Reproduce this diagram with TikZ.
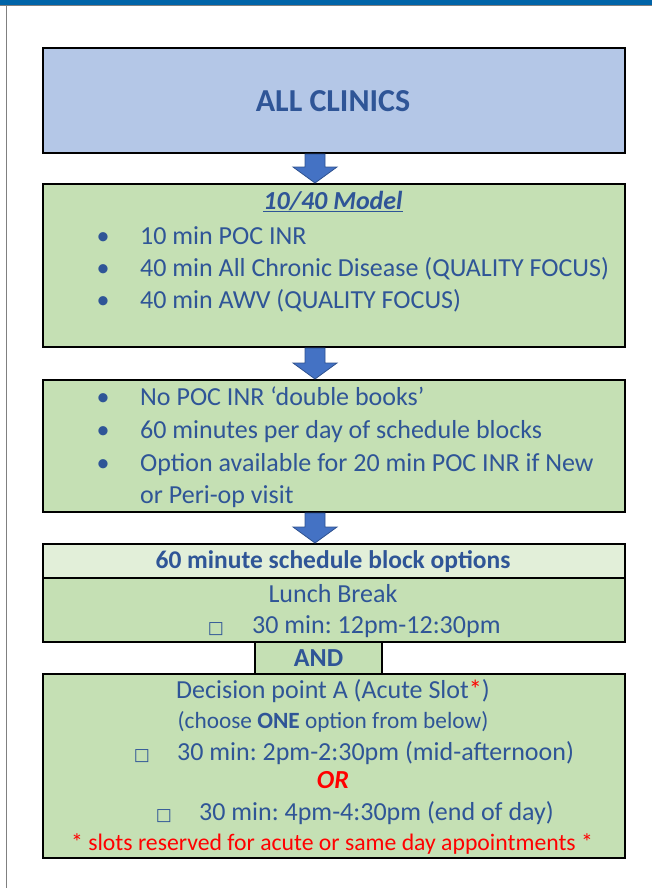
\documentclass[tikz,border=0pt]{standalone}
\usepackage{fontspec}
\setmainfont{Carlito}
\newfontfamily\glyphfont{DejaVu Sans}
\usetikzlibrary{calc}
\frenchspacing

\definecolor{barblue}{HTML}{0064A8}
\definecolor{framegray}{HTML}{808080}
\definecolor{clinicblue}{HTML}{B4C7E7}
\definecolor{stepgreen}{HTML}{C5E0B4}
\definecolor{headgreen}{HTML}{E2EFD9}
\definecolor{inkblue}{HTML}{2F5597}
\definecolor{arrowfill}{HTML}{4472C4}
\definecolor{arrowedge}{HTML}{2F528F}
\definecolor{alertred}{HTML}{FF0000}

\tikzset{
  panel/.style={draw=black, line width=2pt, anchor=north west, inner sep=0pt,
    minimum width=582pt, fill=stepgreen},
  entry/.style={text=inkblue, inner sep=0pt, anchor=base west,
    font=\fontsize{26}{30}\selectfont},
  centred/.style={entry, anchor=base},
  dot/.style={entry, anchor=base},
  tickbox/.style={text=inkblue, inner sep=0pt, anchor=base,
    font=\glyphfont\fontsize{17}{20}\selectfont},
  fatarrow/.style={fill=arrowfill, draw=arrowedge, line width=0.8pt, line join=miter}
}

\newcommand\blockarrow[2]{%
  \filldraw[fatarrow]
    ($(#1.south -| axis)+(-10,0)$) -- ($(#1.south -| axis)+(10,0)$)
    -- ($(#2.north -| axis)+(10,-16)$) -- ($(#2.north -| axis)+(22,-16)$)
    -- (#2.north -| axis)
    -- ($(#2.north -| axis)+(-22,-16)$) -- ($(#2.north -| axis)+(-10,-16)$) -- cycle;}

\begin{document}
\begin{tikzpicture}[x=1pt, y=-1pt]
  \useasboundingbox (0,0) rectangle (652,888);
  \fill[barblue] (0,0) rectangle (652,5);
  \fill[framegray] (0,5) rectangle (652,6.5);
  \fill[framegray] (5.5,5) rectangle (7,888);

  \node[panel, fill=clinicblue, minimum height=105pt] (clinics) at (42,47) {};
  \node[panel, minimum height=163pt] (model) at (42,183) {};
  \node[panel, minimum height=132pt] (rules) at (42,379) {};
  \node[panel, fill=headgreen, minimum height=34pt] (blockhead) at (42,543) {};
  \node[panel, minimum height=64pt] (lunch) at (42,577) {};
  \node[panel, minimum width=127pt, minimum height=32pt] (andbox) at (254,641) {};
  \node[panel, minimum height=184pt] (decision) at (42,673) {};

  \coordinate (axis) at (315,0);
  \blockarrow{clinics}{model}
  \blockarrow{model}{rules}
  \blockarrow{rules}{blockhead}

  \node[centred, font=\fontsize{32}{36}\selectfont\bfseries] (clinicsname) at (333,111) {ALL CLINICS};

  \node[centred, font=\fontsize{26}{30}\selectfont\bfseries\itshape] (modelname) at (333,209) {\underline{10/40 Model}};
  \node[dot] (m1) at (103,244) {•};
  \node[entry] (poc) at (140,244) {10 min POC INR};
  \node[dot] (m2) at (103,276) {•};
  \node[entry] (chronic) at (140,276) {40 min All Chronic Disease (QUALITY FOCUS)};
  \node[dot] (m3) at (103,308) {•};
  \node[entry] (awv) at (140,308) {40 min AWV (QUALITY FOCUS)};

  \node[dot] (r1) at (103,405) {•};
  \node[entry] (nodouble) at (140,405) {No POC INR ‘double books’};
  \node[dot] (r2) at (103,438) {•};
  \node[entry] (perday) at (140,438) {60 minutes per day of schedule blocks};
  \node[dot] (r3) at (103,471) {•};
  \node[entry] (option) at (140,471) {Option available for 20 min POC INR if New};
  \node[entry] (periop) at (140,503) {or Peri-op visit};

  \node[centred, font=\fontsize{25.5}{30}\selectfont\bfseries] (blockname) at (333,568) {60 minute schedule block options};
  \node[centred] (lunchname) at (333,602) {Lunch Break};
  \node[tickbox] (t1) at (216,633) {□};
  \node[entry] (noon) at (252,633) {30 min: 12pm-12:30pm};
  \node[centred, font=\fontsize{26}{30}\selectfont\bfseries] (andname) at (andbox.center |- 0,666) {AND};

  \node[centred] (pointa) at (333,698) {Decision point A (Acute Slot\textcolor{alertred}{*})};
  \node[centred, font=\fontsize{23.3}{27}\selectfont] (choose) at (333,728) {(choose \textbf{ONE} option from below)};
  \node[tickbox] (t2) at (142,760) {□};
  \node[entry] (midday) at (177,760) {30 min: 2pm-2:30pm (mid-afternoon)};
  \node[centred, text=alertred, font=\fontsize{26}{30}\selectfont\bfseries\itshape] (orname) at (333,788) {OR};
  \node[tickbox] (t3) at (164,820) {□};
  \node[entry] (endday) at (199,820) {30 min: 4pm-4:30pm (end of day)};
  \node[centred, text=alertred, font=\fontsize{23.7}{28}\selectfont] (reserved) at (332,850) {* slots reserved for acute or same day appointments *};
\end{tikzpicture}
\end{document}
